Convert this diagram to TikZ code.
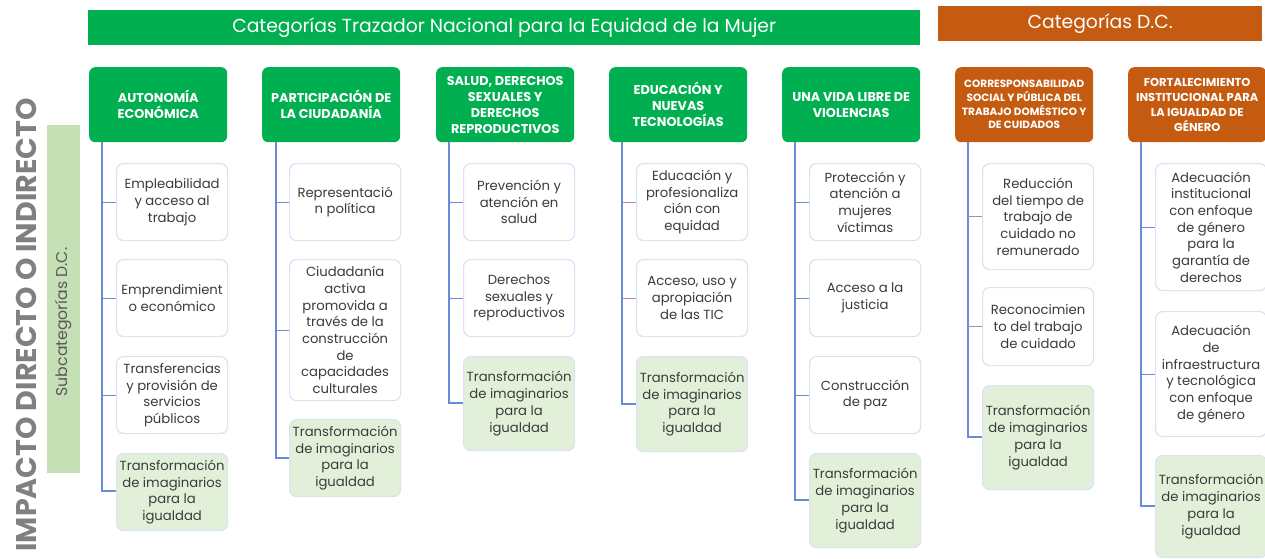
\documentclass[tikz,border=0pt]{standalone}
\usepackage{fontspec}
\setmainfont{Poppins}
\definecolor{trazgreen}{HTML}{00B050}
\definecolor{dcorange}{HTML}{C55A11}
\definecolor{barfill}{HTML}{C5E0B4}
\definecolor{transfill}{HTML}{E2F0D9}
\definecolor{boxline}{HTML}{DAE3F3}
\definecolor{linkblue}{HTML}{6A8BD6}
\definecolor{linkpink}{HTML}{C080A8}
\definecolor{bodytext}{HTML}{3B3B3B}

\tikzset{
  banner/.style={anchor=north west, text=white, inner sep=0pt,
    font=\fontsize{18.8}{22}\selectfont},
  cathead/.style={anchor=north west, rounded corners=6pt, minimum width=138pt,
    minimum height=75pt, text=white, align=center, inner sep=2pt,
    font=\bfseries\fontsize{12.8}{16}\selectfont},
  subbox/.style={anchor=north west, draw=boxline, line width=1.2pt,
    rounded corners=7pt, fill=white, minimum width=111pt, minimum height=77pt,
    align=center, text=bodytext, inner sep=1pt,
    font=\fontsize{13.2}{16.7}\selectfont},
  transbox/.style={subbox, fill=transfill},
  link/.style={draw=linkblue, line width=1.2pt},
}

\begin{document}
\begin{tikzpicture}[x=1pt,y=-1pt]
  \useasboundingbox (0,0) rectangle (1265,558);

  % titles
  \node[banner, fill=trazgreen, minimum width=832pt, minimum height=35pt] (traz) at (88,10)
    {Categorías Trazador Nacional para la Equidad de la Mujer};
  \node[banner, fill=dcorange, minimum width=324pt, minimum height=35pt] (dc) at (938,6)
    {Categorías D.C.};
  \node[rotate=90, text=black!50, font=\bfseries\fontsize{28.5}{32}\selectfont] (impacto) at (26,325)
    {IMPACTO DIRECTO O INDIRECTO};
  \node[fill=barfill, minimum width=348pt, minimum height=33pt, rotate=90] (subcat) at (63.5,299) {};
  \node[rotate=90, text=black!65, font=\fontsize{15.7}{18}\selectfont] (subcattxt) at (63.5,322)
    {Subcategorías D.C.};

  % category headers
  \node[cathead, fill=trazgreen] (h1) at (89,67) {AUTONOMÍA\\ECONÓMICA};
  \node[cathead, fill=trazgreen] (h2) at (262,67) {PARTICIPACIÓN DE\\LA CIUDADANÍA};
  \node[cathead, fill=trazgreen] (h3) at (436,67) {SALUD, DERECHOS\\SEXUALES Y\\DERECHOS\\REPRODUCTIVOS};
  \node[cathead, fill=trazgreen] (h4) at (609,67) {EDUCACIÓN Y\\NUEVAS\\TECNOLOGÍAS};
  \node[cathead, fill=trazgreen] (h5) at (782,67) {UNA VIDA LIBRE DE\\VIOLENCIAS};
  \node[cathead, fill=dcorange, font=\bfseries\fontsize{10.5}{13.7}\selectfont] (h6) at (955,67)
    {CORRESPONSABILIDAD\\SOCIAL Y PÚBLICA DEL\\TRABAJO DOMÉSTICO Y\\DE CUIDADOS};
  \node[cathead, fill=dcorange, font=\bfseries\fontsize{11.5}{15}\selectfont] (h7) at (1128,67)
    {FORTALECIMIENTO\\INSTITUCIONAL PARA\\LA IGUALDAD DE\\GÉNERO};

  % trunk tops
  \coordinate (t1) at (102,142);
  \coordinate (t2) at (276,142);
  \coordinate (t3) at (449,142);
  \coordinate (t4) at (622,142);
  \coordinate (t5) at (795,142);
  \coordinate (t6) at (968,142);
  \coordinate (t7) at (1141,142);

  % trunk lines
  \begin{scope}[link]
    \draw (t1) |- (116,491);
    \draw (t2) |- (289,458);
    \draw (t3) |- (463,403);
    \draw (t4) |- (636,404);
    \draw (t5) |- (809,500);
    \draw (t6) |- (982,437);
    \draw (t7) |- (1155,506);
  \end{scope}

  % subcategories
  \node[subbox] (a1) at (116,163) {Empleabilidad\\y acceso al\\trabajo};
  \node[subbox] (a2) at (116,259) {Emprendimient\\o económico};
  \node[subbox] (a3) at (116,356) {Transferencias\\y provisión de\\servicios\\públicos};
  \node[transbox] (a4) at (116,453) {Transformación\\de imaginarios\\para la\\igualdad};

  \node[subbox] (b1) at (289,163) {Representació\\n política};
  \node[subbox, minimum height=141pt] (b2) at (289,259)
    {Ciudadanía\\activa\\promovida a\\través de la\\construcción\\de\\capacidades\\culturales};
  \node[transbox] (b3) at (289,419) {Transformación\\de imaginarios\\para la\\igualdad};

  \node[subbox] (c1) at (463,163) {Prevención y\\atención en\\salud};
  \node[subbox] (c2) at (463,259) {Derechos\\sexuales y\\reproductivos};
  \node[transbox, minimum height=94pt] (c3) at (463,356) {Transformación\\de imaginarios\\para la\\igualdad};

  \node[subbox] (d1) at (636,163) {Educación y\\profesionaliza\\ción con\\equidad};
  \node[subbox] (d2) at (636,259) {Acceso, uso y\\apropiación\\de las TIC};
  \node[transbox, minimum height=95pt] (d3) at (636,356) {Transformación\\de imaginarios\\para la\\igualdad};

  \node[subbox] (e1) at (809,163) {Protección y\\atención a\\mujeres\\víctimas};
  \node[subbox] (e2) at (809,259) {Acceso a la\\justicia};
  \node[subbox] (e3) at (809,356) {Construcción\\de paz};
  \node[transbox, minimum height=94pt] (e4) at (809,453) {Transformación\\de imaginarios\\para la\\igualdad};

  \node[subbox, minimum height=106pt] (f1) at (982,163)
    {Reducción\\del tiempo de\\trabajo de\\cuidado no\\remunerado};
  \node[subbox, minimum height=78pt] (f2) at (982,287) {Reconocimien\\to del trabajo\\de cuidado};
  \node[transbox, minimum height=104pt] (f3) at (982,385) {Transformación\\de imaginarios\\para la\\igualdad};

  \node[subbox, minimum height=127pt] (g1) at (1155,163)
    {Adecuación\\institucional\\con enfoque\\de género\\para la\\garantía de\\derechos};
  \node[subbox, minimum height=125pt] (g2) at (1155,311)
    {Adecuación\\de\\infraestructura\\y tecnológica\\con enfoque\\de género};
  \node[transbox, minimum height=102pt] (g3) at (1155,455) {Transformación\\de imaginarios\\para la\\igualdad};

  % stubs
  \begin{scope}[link]
    \draw (t1 |- a1.west) -- (a1.west);
    \draw (t1 |- a2.west) -- (a2.west);
    \draw (t1 |- a3.west) -- (a3.west);
    \draw (t2 |- b1.west) -- (b1.west);
    \draw (t2 |- b2.west) -- (b2.west);
    \draw (t3 |- c1.west) -- (c1.west);
    \draw (t3 |- c2.west) -- (c2.west);
    \draw[linkpink] (t4 |- d1.west) -- (d1.west);
    \draw[linkpink] (t4 |- d2.west) -- (d2.west);
    \draw (t5 |- e1.west) -- (e1.west);
    \draw (t5 |- e2.west) -- (e2.west);
    \draw (t5 |- e3.west) -- (e3.west);
    \draw[linkpink] (t6 |- f1.west) -- (f1.west);
    \draw[linkpink] (t6 |- f2.west) -- (f2.west);
    \draw (t7 |- g1.west) -- (g1.west);
    \draw (t7 |- g2.west) -- (g2.west);
  \end{scope}
\end{tikzpicture}
\end{document}
